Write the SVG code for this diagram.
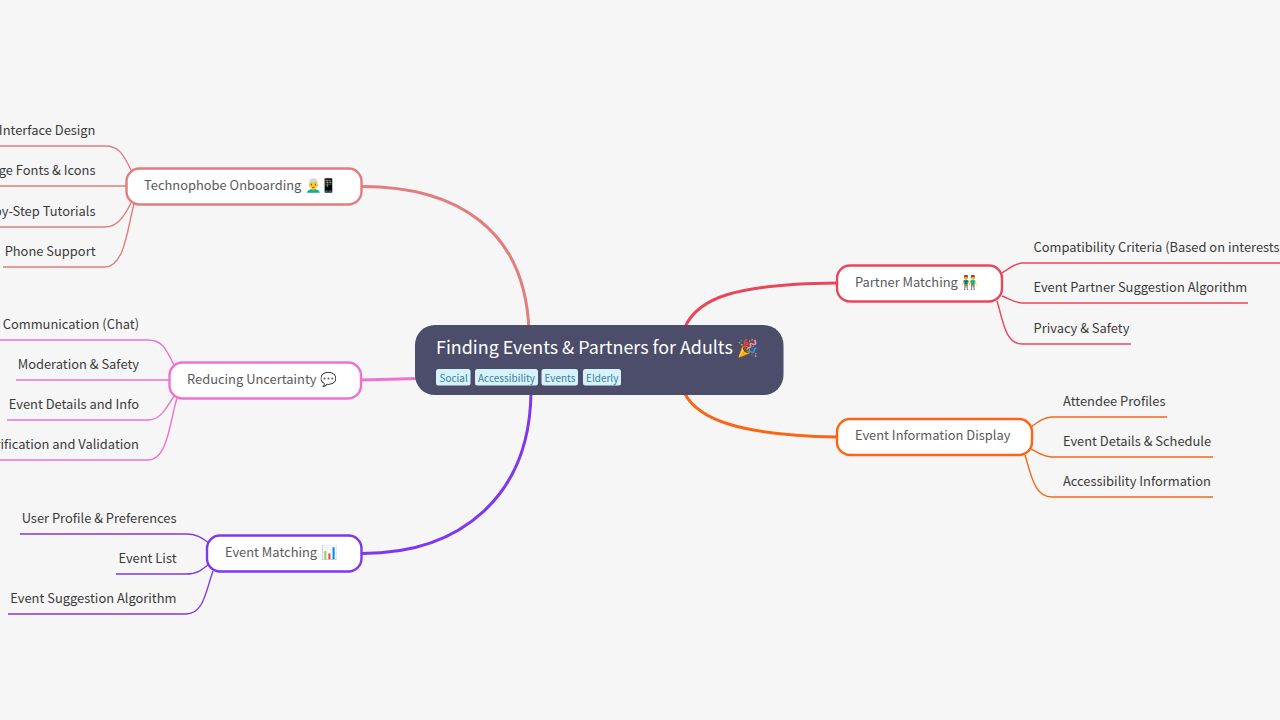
<svg xmlns="http://www.w3.org/2000/svg" width="1280" height="720" viewBox="0 0 1280 720">
<style>
text{font-family:"Noto Sans CJK SC","Noto Sans","Noto Color Emoji",sans-serif;}
.leaf{font-size:12.9px;fill:#3a3a3a;}
.end{text-anchor:end;}
.n{font-size:12.9px;fill:#5a5a5a;}
.e{font-size:13.5px;}
.box{fill:#fff;stroke-width:2.4;}
.tag{fill:#d6f3fb;}
.tagt{font-size:10px;fill:#3c7f9a;}
.c{fill:none;}
.main{stroke-width:3;}
.sub{stroke-width:1.4;}
.pink{stroke:#e27c7e}.mag{stroke:#ee73d0}.pur{stroke:#7f38ec}.red{stroke:#e9465c}.ora{stroke:#fb6515}
</style>
<rect width="1280" height="720" fill="#f6f6f6"/>
<g id="connectors">
<path class="c main pink" d="M362 186.500C455 186.500 526 228 529 332"/>
<path class="c main mag" d="M361 380L418 378.500"/>
<path class="c main pur" d="M362 553.500C462 553.500 530 495 531 392"/>
<path class="c main red" d="M685 327C698 298 735 284 837 283"/>
<path class="c main ora" d="M685 394C698 418 735 435 837 437"/>
<path class="c sub pink" d="M131 170C123 153 118 146 105 146H-5"/>
<path class="c sub pink" d="M126 186H-5"/>
<path class="c sub pink" d="M131 203C123 219 116 227 105 227H-5"/>
<path class="c sub pink" d="M134 204C128 225 125 267 105 267H3"/>
<path class="c sub mag" d="M174 365C166 349 162 340 148 340H-5"/>
<path class="c sub mag" d="M169 380H16"/>
<path class="c sub mag" d="M174 396C166 409 160 420 148 420H7"/>
<path class="c sub mag" d="M177 398C170 420 168 460 148 460H-5"/>
<path class="c sub pur" d="M209 543C202 538 197 534 186 534H20"/>
<path class="c sub pur" d="M209 564C203 569 198 574 186 574H116"/>
<path class="c sub pur" d="M213 571C206 590 204 614 186 614H8"/>
<path class="c sub red" d="M1002 273C1010 268 1016 263 1022 263H1285"/>
<path class="c sub red" d="M1002 296C1010 299 1016 303 1022 303H1248"/>
<path class="c sub red" d="M997 301C1003 320 1005 344 1022 344H1131"/>
<path class="c sub ora" d="M1031 427C1038 422 1044 417 1052 417H1167"/>
<path class="c sub ora" d="M1031 449C1038 453 1044 457 1052 457H1213"/>
<path class="c sub ora" d="M1025 455C1031 474 1034 497 1052 497H1213"/>
</g>
<g id="root">
<rect x="415" y="325" width="368.500" height="70" rx="20" fill="#4b4d6b"/>
<text x="436" y="353.500" font-size="17.900" fill="#fff">Finding Events &amp; Partners for Adults <tspan x="737" font-size="17">🎉</tspan></text>
<rect class="tag" x="436" y="369" width="34.500" height="16.500" rx="2.500"/><text class="tagt" x="439.500" y="382">Social</text>
<rect class="tag" x="475" y="369" width="63" height="16.500" rx="2.500"/><text class="tagt" x="478" y="382">Accessibility</text>
<rect class="tag" x="541.500" y="369" width="36.500" height="16.500" rx="2.500"/><text class="tagt" x="544.500" y="382">Events</text>
<rect class="tag" x="583" y="369" width="38" height="16.500" rx="2.500"/><text class="tagt" x="586" y="382">Elderly</text>
</g>
<g id="technophobe">
<rect class="box pink" x="126.500" y="168.500" width="235" height="36" rx="13"/>
<text class="n" x="144" y="190">Technophobe Onboarding <tspan class="e" x="305">👨‍🦳</tspan><tspan class="e" x="320.500">📱</tspan></text>
<text class="leaf end" x="95.500" y="135">Interface Design</text>
<text class="leaf end" x="95.500" y="175">Large Fonts &amp; Icons</text>
<text class="leaf end" x="95.500" y="215.500">Step-by-Step Tutorials</text>
<text class="leaf end" x="95.500" y="256">Phone Support</text>
</g>
<g id="uncertainty">
<rect class="box mag" x="169.500" y="362.500" width="191.500" height="36" rx="13"/>
<text class="n" x="187" y="384">Reducing Uncertainty <tspan class="e" x="320">💬</tspan></text>
<text class="leaf end" x="139" y="329">Communication (Chat)</text>
<text class="leaf end" x="139" y="369">Moderation &amp; Safety</text>
<text class="leaf end" x="139" y="409">Event Details and Info</text>
<text class="leaf end" x="139" y="449">Verification and Validation</text>
</g>
<g id="eventmatching">
<rect class="box pur" x="207" y="535.500" width="154.500" height="36" rx="13"/>
<text class="n" x="225" y="557">Event Matching <tspan class="e" x="321">📊</tspan></text>
<text class="leaf end" x="176.500" y="522.500">User Profile &amp; Preferences</text>
<text class="leaf end" x="176.500" y="563">Event List</text>
<text class="leaf end" x="176.500" y="603">Event Suggestion Algorithm</text>
</g>
<g id="partner">
<rect class="box red" x="837" y="265.500" width="165" height="36" rx="13"/>
<text class="n" x="855" y="286.500">Partner Matching <tspan class="e" x="961.500">👬</tspan></text>
<text class="leaf" x="1033.500" y="252">Compatibility Criteria (Based on interests)</text>
<text class="leaf" x="1033.500" y="292">Event Partner Suggestion Algorithm</text>
<text class="leaf" x="1033.500" y="332.500">Privacy &amp; Safety</text>
</g>
<g id="eventinfo">
<rect class="box ora" x="837" y="419" width="195" height="36" rx="13"/>
<text class="n" x="855" y="440">Event Information Display</text>
<text class="leaf" x="1063" y="406">Attendee Profiles</text>
<text class="leaf" x="1063" y="446">Event Details &amp; Schedule</text>
<text class="leaf" x="1063" y="486">Accessibility Information</text>
</g>
</svg>
